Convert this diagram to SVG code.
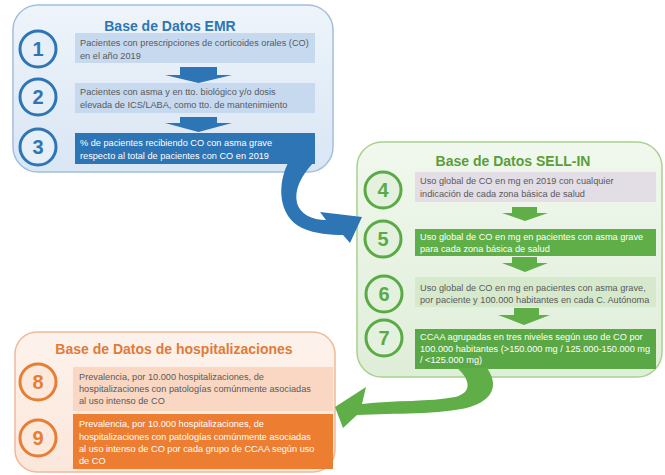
<svg xmlns="http://www.w3.org/2000/svg" width="665" height="475" viewBox="0 0 665 475">
<defs>
<linearGradient id="gB" x1="0" y1="0" x2="0" y2="1"><stop offset="0" stop-color="#eef4fa"/><stop offset="1" stop-color="#d9e6f4"/></linearGradient>
<linearGradient id="gG" x1="0" y1="0" x2="0" y2="1"><stop offset="0" stop-color="#f1f8ee"/><stop offset="1" stop-color="#dfeed8"/></linearGradient>
<linearGradient id="gO" x1="0" y1="0" x2="0" y2="1"><stop offset="0" stop-color="#fdf3ec"/><stop offset="1" stop-color="#fbe6da"/></linearGradient>
</defs>
<style>
text{font-family:"Liberation Sans",Arial,sans-serif}
.t{font-size:9.2px;fill:#595959}
.w{font-size:9.2px;fill:#ffffff}
.ttl{font-size:14px;font-weight:bold;text-anchor:middle}
.num{font-size:20px;font-weight:bold;text-anchor:middle}
.cb{fill:#e6eef8;stroke:#2e75b6;stroke-width:3}
.cg{fill:#e4f1de;stroke:#5aab46;stroke-width:3}
.co{fill:#fde8dc;stroke:#e67e34;stroke-width:3}
</style>

<!-- Panels -->
<g id="panel-emr">
<rect x="13" y="5" width="320" height="167" rx="25" fill="url(#gB)" stroke="#a3bfdd" stroke-width="1.5"/>
<text class="ttl" x="170" y="31" fill="#2e75b6">Base de Datos EMR</text>
</g>
<g id="panel-sellin">
<rect x="357" y="142" width="305" height="235" rx="25" fill="url(#gG)" stroke="#a9d18e" stroke-width="1.5"/>
<text class="ttl" x="513" y="166" fill="#5a9e3a">Base de Datos SELL-IN</text>
</g>
<g id="panel-hosp">
<rect x="15" y="332" width="320" height="140" rx="22" fill="url(#gO)" stroke="#f0b998" stroke-width="1.5"/>
<text class="ttl" x="174" y="354" fill="#e07b39">Base de Datos de hospitalizaciones</text>
</g>

<!-- Blue chain -->
<g id="n1">
<circle class="cb" cx="38" cy="49" r="18"/><text class="num" x="38" y="56" fill="#2e75b6">1</text>
<rect x="75" y="33" width="240" height="30" fill="#c6d9ef"/>
<text class="t" x="80" y="46">Pacientes con prescripciones de corticoides orales (CO)</text>
<text class="t" x="80" y="58.5">en el año 2019</text>
</g>
<g id="n2">
<circle class="cb" cx="38" cy="97" r="18"/><text class="num" x="38" y="104" fill="#2e75b6">2</text>
<rect x="75" y="83" width="240" height="30" fill="#c6d9ef"/>
<text class="t" x="80" y="95">Pacientes con asma y en tto. biológico y/o dosis</text>
<text class="t" x="80" y="107.5">elevada de ICS/LABA, como tto. de mantenimiento</text>
</g>
<g id="n3">
<circle class="cb" cx="38" cy="147" r="18"/><text class="num" x="38" y="154" fill="#2e75b6">3</text>
<rect x="75" y="133" width="240" height="31" fill="#2e75b6"/>
<text class="w" x="80" y="146">% de pacientes recibiendo CO con asma grave</text>
<text class="w" x="80" y="158.5">respecto al total de pacientes con CO en 2019</text>
</g>

<!-- Green chain -->
<g id="n4">
<circle class="cg" cx="383" cy="190" r="18"/><text class="num" x="383" y="197" fill="#5aab46">4</text>
<rect x="415" y="172" width="241" height="30" fill="#e3dde5"/>
<text class="t" x="420" y="184">Uso global de CO en mg en 2019 con cualquier</text>
<text class="t" x="420" y="196.5">indicación de cada zona básica de salud</text>
</g>
<g id="n5">
<circle class="cg" cx="383" cy="239" r="18"/><text class="num" x="383" y="246" fill="#5aab46">5</text>
<rect x="415" y="229" width="241" height="27" fill="#5fae48"/>
<text class="w" x="420" y="239.5">Uso global de CO en mg en pacientes con asma grave</text>
<text class="w" x="420" y="251.5">para cada zona básica de salud</text>
</g>
<g id="n6">
<circle class="cg" cx="384" cy="294" r="18"/><text class="num" x="384" y="301" fill="#5aab46">6</text>
<rect x="415" y="277" width="241" height="30" fill="#d6e9cd"/>
<text class="t" x="420" y="291">Uso global de CO en mg en pacientes con asma grave,</text>
<text class="t" x="420" y="302.5">por paciente y 100.000 habitantes en cada C. Autónoma</text>
</g>
<g id="n7">
<circle class="cg" cx="384" cy="338" r="18"/><text class="num" x="384" y="345" fill="#5aab46">7</text>
<rect x="415" y="329" width="241" height="40" fill="#5aa845"/>
<text class="w" x="420" y="340">CCAA agrupadas en tres niveles según uso de CO por</text>
<text class="w" x="420" y="351.5">100.000 habitantes (&gt;150.000 mg / 125.000-150.000 mg</text>
<text class="w" x="420" y="363">/ &lt;125.000 mg)</text>
</g>

<!-- Orange chain -->
<g id="n8">
<circle class="co" cx="38" cy="382" r="18"/><text class="num" x="38" y="389" fill="#e67e34">8</text>
<rect x="73" y="367" width="260" height="44" fill="#f9d7c3"/>
<text class="t" x="79" y="380">Prevalencia, por 10.000 hospitalizaciones, de</text>
<text class="t" x="79" y="392">hospitalizaciones con patologías comúnmente asociadas</text>
<text class="t" x="79" y="404">al uso intenso de CO</text>
</g>
<g id="n9">
<circle class="co" cx="38" cy="438" r="18"/><text class="num" x="38" y="445" fill="#e67e34">9</text>
<rect x="73" y="414" width="260" height="55" fill="#ed7d31"/>
<text class="w" x="79" y="427">Prevalencia, por 10.000 hospitalizaciones, de</text>
<text class="w" x="79" y="439.5">hospitalizaciones con patologías comúnmente asociadas</text>
<text class="w" x="79" y="452">al uso intenso de CO por cada grupo de CCAA según uso</text>
<text class="w" x="79" y="464">de CO</text>
</g>

<!-- Connectors -->
<g id="connectors">
<path d="M180 67 H217 V75 H232 L198.5 83 L165 75 H180 Z" fill="#2e75b6"/>
<path d="M180 117 H217 V123 H232 L198.5 132 L165 123 H180 Z" fill="#2e75b6"/>
<path d="M512 207 H537 V213 H548 L525 221 L502 213 H512 Z" fill="#5fae48"/>
<path d="M512 257 H537 V263 H548 L525 272 L502 263 H512 Z" fill="#5fae48"/>
<path d="M514 308 H539 V315 H550 L524 325 L498 315 H514 Z" fill="#5fae48"/>
<path d="M288 163 C 277 185, 278 216, 302 228 C 316 234, 330 235, 343 235 L 350 243 L 362 217 L 320 212 L 326 220 C 312 220, 300 214, 297 203 C 294 190, 301 176, 313 163 Z" fill="#2e75b6"/>
<path d="M457 368 C 471 380, 472 393, 455 397 C 430 402, 395 400, 362 404 L 366 387 L 335 407 L 343 428 L 357 415 C 395 413, 440 415, 470 407 C 493 400, 499 385, 487 368 Z" fill="#5fae48"/>
</g>
</svg>
